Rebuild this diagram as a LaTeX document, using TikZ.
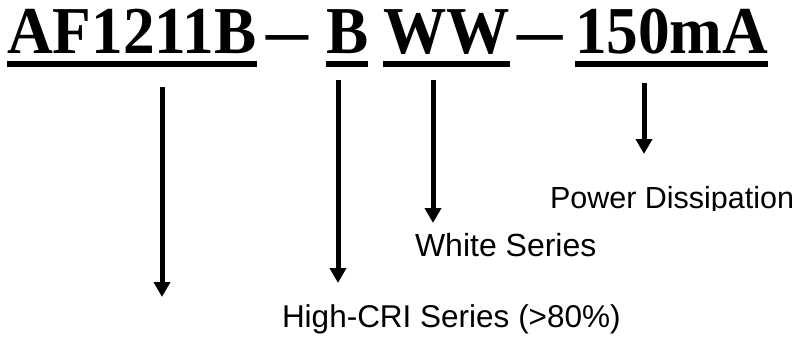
\documentclass[tikz,border=0pt]{standalone}
\usepackage{fontspec}
\setmainfont{Liberation Serif}
\setsansfont{Liberation Sans}
\usetikzlibrary{arrows.meta}
\tikzset{
  part/.style={anchor=base west, inner sep=0pt, outer sep=0pt, font=\fontsize{67}{70}\selectfont\bfseries},
  dashpart/.style={anchor=base, inner sep=0pt, outer sep=0pt, font=\fontsize{67}{70}\selectfont\bfseries},
  lbl/.style={anchor=base west, inner sep=0pt, outer sep=0pt, font=\fontsize{31}{34}\sffamily},
  arr/.style={line width=5pt, -{Triangle[width=16pt,length=15pt]}},
}
\newcommand{\sq}[1]{\scalebox{0.945}[1]{#1}}
\begin{document}
\begin{tikzpicture}[x=1pt,y=-1pt]
\useasboundingbox (0,0) rectangle (806,338);
% title parts
\node[part] (p1) at (7,53.5) {\sq{AF1211B}};
\node[dashpart] (d1) at (287,53.5) {\scalebox{1.25}[1]{–}};
\node[part] (p2) at (326,53.5) {\sq{B}};
\node[part] (p3) at (383,53.5) {\sq{WW}};
\node[dashpart] (d2) at (540,53.5) {\scalebox{1.35}[1]{–}};
\node[part] (p4) at (575,53.5) {\sq{150mA}};
% underlines
\foreach \n in {p1,p2,p3,p4}{
  \fill (\n.west |- 0,61) rectangle (\n.east |- 0,67);
}
% arrow ends
\coordinate (a1s) at (162,87);  \coordinate (a1e) at (162,297);
\coordinate (a2s) at (338,80);  \coordinate (a2e) at (338,283);
\coordinate (a3s) at (433,80);  \coordinate (a3e) at (433,223);
\coordinate (a4s) at (644,83);  \coordinate (a4e) at (644,154);
\draw[arr] (a1s) -- (a1e);
\draw[arr] (a2s) -- (a2e);
\draw[arr] (a3s) -- (a3e);
\draw[arr] (a4s) -- (a4e);
% labels
\node[lbl, font=\fontsize{31.5}{34}\sffamily] (l2) at (282,327) {High-CRI Series (>80\%)};
\node[lbl, font=\fontsize{32}{34}\sffamily] (l3) at (415,256) {White Series};
\begin{scope}
\clip (500,150) rectangle (806,210);
\node[lbl, font=\fontsize{30.5}{34}\sffamily] (l4) at (550,208) {Power Dissipation};
\end{scope}
\end{tikzpicture}
\end{document}
